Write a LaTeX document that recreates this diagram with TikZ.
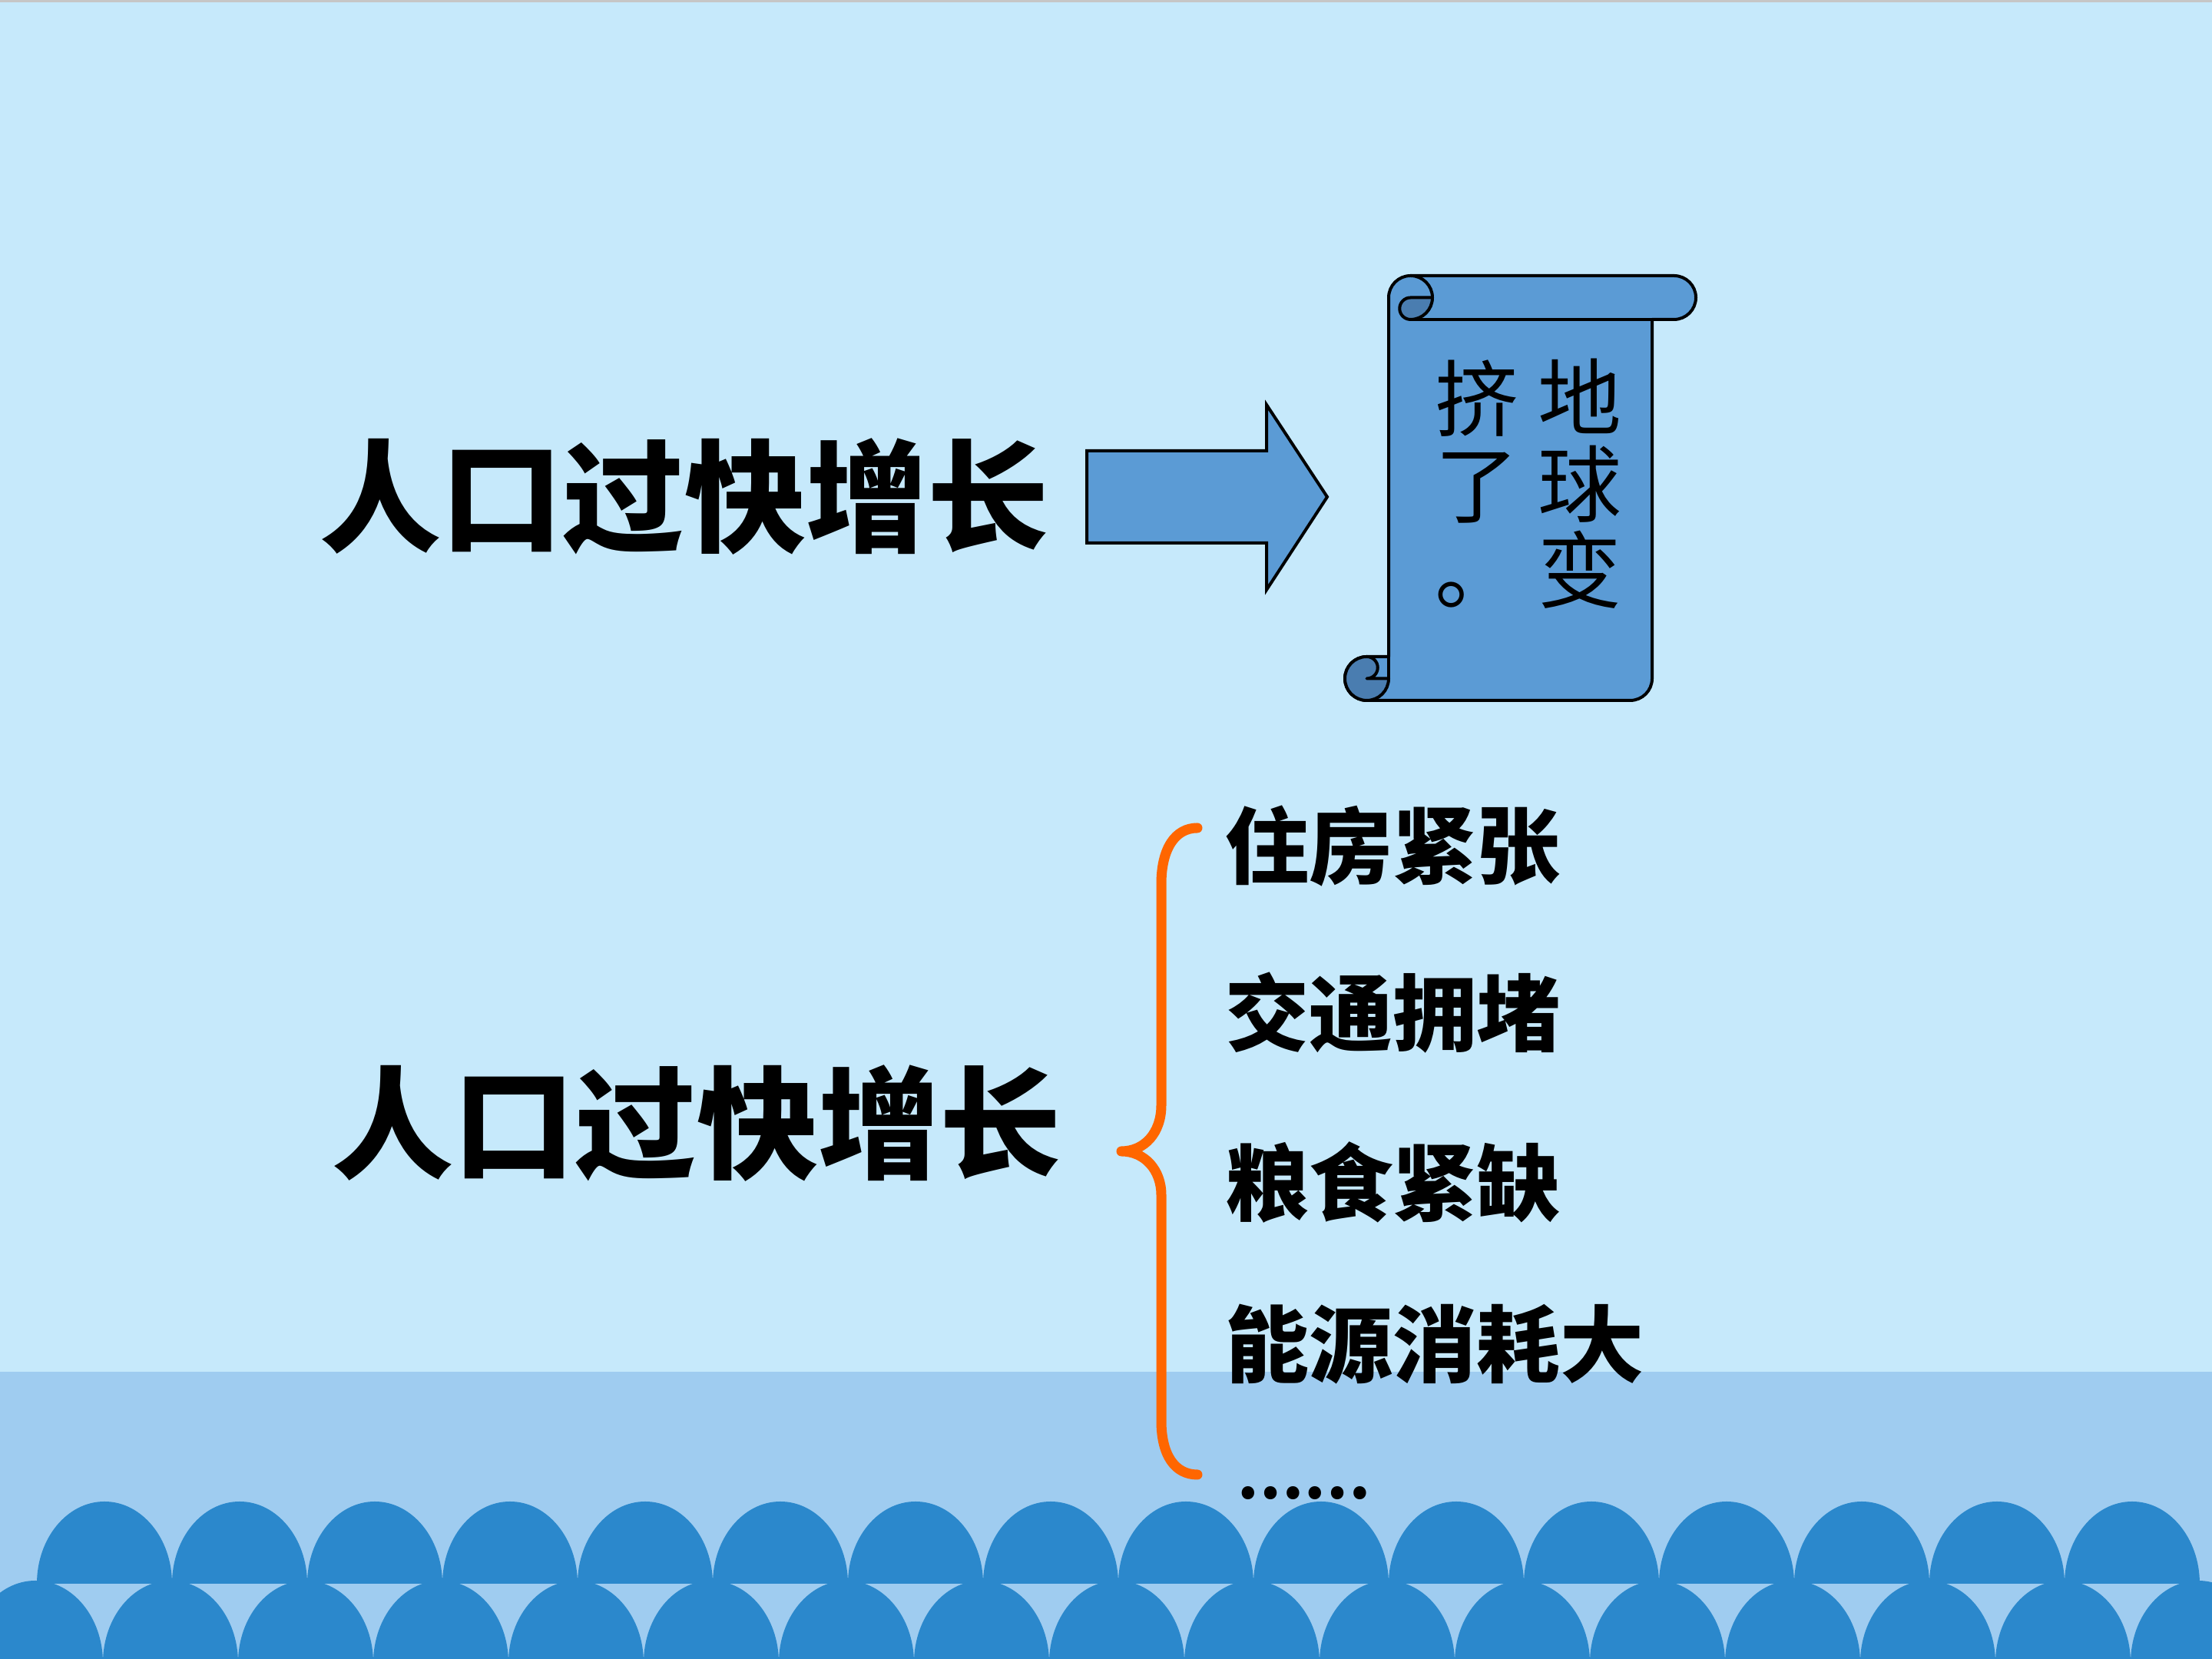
\documentclass[tikz,border=0pt]{standalone}
\usepackage{xcolor}
\usepackage{fontspec}
\usepackage{tikz}
\usetikzlibrary{positioning}

\newfontfamily\cjk{Noto Sans CJK SC}

\definecolor{skyblue}{RGB}{198,233,251}
\definecolor{seablue}{RGB}{159,204,240}
\definecolor{waveblue}{RGB}{43,136,204}
\definecolor{scrollblue}{RGB}{91,155,213}
\definecolor{scrolldark}{RGB}{74,125,176}
\definecolor{braceorange}{RGB}{255,102,0}

\tikzset{
    outline/.style={line width=0.4mm, line join=round},
    wave/.style={fill=waveblue},
    titletext/.style={inner sep=0pt, font=\cjk\bfseries\fontsize{45}{54}\selectfont},
    itemtext/.style={inner sep=0pt, anchor=west, font=\cjk\bfseries\fontsize{31}{37}\selectfont},
    scrolltext/.style={inner sep=0pt, align=center, font=\cjk\fontsize{31}{32}\selectfont}
}

\begin{document}
\begin{tikzpicture}
                \useasboundingbox (0,0) rectangle (28.8,21.6);
                \clip (0,0) rectangle (28.8,21.6);

                \fill[skyblue] (0,0) rectangle (28.8,21.6);
                \fill[gray!45] (0,21.57) rectangle (28.8,21.6);
                \fill[seablue] (0,0) rectangle (28.8,3.74);

                \foreach \i in {0,...,15}
                    \fill[wave] ({0.48+1.76*\i},0.98)
                        arc[start angle=180, end angle=0, x radius=0.88, y radius=1.07] -- cycle;
                \foreach \i in {0,...,16}
                    \fill[wave] ({-0.42+1.76*\i},-0.05)
                        arc[start angle=180, end angle=0, x radius=0.88, y radius=1.07] -- cycle;

                \draw[
                    outline,
                    line join=miter,
                    fill=scrollblue
                ] (14.15,15.73) -- (16.49,15.73) -- (16.49,16.33) -- (17.28,15.13)
                  -- (16.49,13.92) -- (16.49,14.53) -- (14.15,14.53) -- cycle;

                \begin{scope}[shift={(17.51,12.48)}]
                    \draw[
                        outline,
                        fill=scrollblue
                    ] (0.57,0.57) -- (0.57,5.245) arc[start angle=180, end angle=90, radius=0.285]
                      -- (4.285,5.53) arc[start angle=90, end angle=-90, radius=0.285]
                      -- (4.0,4.96) -- (4.0,0.285) arc[start angle=0, end angle=-90, radius=0.285]
                      -- (0.285,0) arc[start angle=-90, end angle=-270, radius=0.285] -- cycle;

                    \draw[
                        outline,
                        fill=scrolldark
                    ] (1.14,5.245) arc[start angle=0, end angle=-90, radius=0.285]
                      arc[start angle=-90, end angle=-270, radius=0.1425] -- cycle;
                    \draw[outline] (0.855,5.53) arc[start angle=90, end angle=0, radius=0.285];
                    \draw[outline] (0.855,4.96) -- (4.0,4.96);

                    \draw[
                        outline,
                        fill=scrolldark
                    ] (0.285,0.57) arc[start angle=90, end angle=360, radius=0.285]
                      -- (0.285,0.285) arc[start angle=-90, end angle=90, radius=0.1425] -- cycle;
                    \draw[outline] (0.57,0.57) -- (0.57,0.285);
                \end{scope}

                \node[scrolltext] (earth) at (20.57,15.30) {地\\球\\变};
                \node[scrolltext] (crowded) at (19.23,15.30) {挤\\了\\。};

                \node[titletext] (growthtop) at (8.91,15.13) {人口过快增长};
                \node[titletext] (growthbottom) at (9.07,6.97) {人口过快增长};

                \draw[
                    braceorange,
                    line width=1.3mm,
                    line cap=round,
                    line join=round
                ] (15.59,10.82) .. controls (15.30,10.82) and (15.12,10.55) .. (15.12,10.09)
                  -- (15.12,7.21) .. controls (15.12,6.85) and (14.90,6.61) .. (14.60,6.61)
                  .. controls (14.90,6.61) and (15.12,6.37) .. (15.12,6.04)
                  -- (15.12,3.10) .. controls (15.12,2.65) and (15.30,2.40) .. (15.59,2.40);

                \node[itemtext] (housing) at (15.95,10.58) {住房紧张};
                \node[itemtext] (traffic) at (15.95,8.41) {交通拥堵};
                \node[itemtext] (grain) at (15.95,6.20) {粮食紧缺};
                \node[itemtext] (energy) at (15.95,4.10) {能源消耗大};
                \node[itemtext, font=\cjk\bfseries\fontsize{22}{26}\selectfont] (more) at (16.10,2.16) {……};

            \end{tikzpicture}
\end{document}
